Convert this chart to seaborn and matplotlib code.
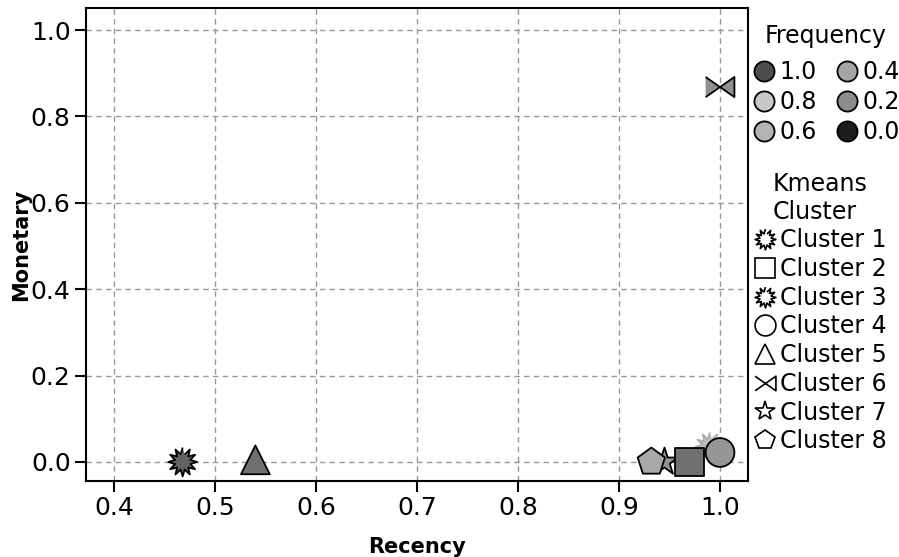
import numpy as np
import pandas as pd
import seaborn as sns
import matplotlib.pyplot as plt
from matplotlib.lines import Line2D

# datos
clusters = ["Cluster 1", "Cluster 5", "Cluster 7", "Cluster 8", "Cluster 3", "Cluster 2", "Cluster 4", "Cluster 6"]
recency = [0.468, 0.54, 0.945, 0.932, 0.99, 0.970, 1.0, 1.0]
monetary = [0.0, 0.005, 0.0, 0.0, 0.035, 0.0, 0.022, 0.868]
frequency = [0.2, 0.3, 0.6, 0.75, 0.9, 0.3, 0.6, 0.55]

freq_labels = ["1.0", "0.8", "0.6", "0.4", "0.2", "0.0"]
freq_colors = ["#4d4d4d", "#c8c8c8", "#b4b4b4", "#a4a4a4", "#8c8c8c", "#1c1c1c"]
legend_clusters = ["Cluster %d" % i for i in range(1, 9)]

df = pd.DataFrame({"Recency": recency, "Monetary": monetary,
                   "Frequency": frequency, "Cluster": clusters})

# marcadores
ang = np.linspace(0, 2 * np.pi, 25)[:-1] + np.pi / 2
rad = np.where(np.arange(24) % 2 == 0, 1.0, 0.55)
burst = list(zip(rad * np.cos(ang), rad * np.sin(ang)))
bowtie = [(-1, -0.7), (0, 0), (1, -0.7), (1, 0.7), (0, 0), (-1, 0.7)]
marker_map = {"Cluster 1": burst, "Cluster 2": "s", "Cluster 3": burst, "Cluster 4": "o",
              "Cluster 5": "^", "Cluster 6": bowtie, "Cluster 7": "*", "Cluster 8": "p"}

sns.set_style("white")
plt.rcParams["font.family"] = ["DejaVu Sans"]
plt.rcParams["text.color"] = "black"

fig = plt.figure(figsize=(8.99, 5.57), dpi=100)
ax = fig.add_axes([86 / 899, 1 - 481 / 557, 662 / 899, 473 / 557])

cmap = sns.blend_palette(["#4a4a4a", "#c8c8c8"], as_cmap=True)
sns.scatterplot(data=df, x="Recency", y="Monetary", hue="Frequency", palette=cmap,
                hue_norm=(0, 1), style="Cluster", markers=marker_map, s=430,
                edgecolor="black", linewidth=1.3, legend=False, ax=ax, zorder=3)
pts = ax.collections[0]
edges = ["#b0b0b0" if c == "Cluster 3" else "black" for c in clusters]
pts.set_edgecolors(edges)

ax.set_xlim(0.3723, 1.0277)
ax.set_ylim(-0.044, 1.051)
ax.set_xticks([0.4, 0.5, 0.6, 0.7, 0.8, 0.9, 1.0])
ax.set_yticks([0.0, 0.2, 0.4, 0.6, 0.8, 1.0])
ax.grid(True, linestyle=(0, (4, 3)), color="#999999", linewidth=1)
ax.set_axisbelow(True)
for sp in ax.spines.values():
    sp.set_color("black")
    sp.set_linewidth(1.5)
ax.tick_params(direction="out", length=8, width=1.5, labelsize=18, colors="black",
               bottom=True, left=True, pad=3)
ax.set_xlabel("Recency", fontsize=15, fontweight="bold", color="black")
ax.set_ylabel("Monetary", fontsize=15, fontweight="bold", color="black")
ax.xaxis.set_label_coords(0.5, -0.118)
ax.yaxis.set_label_coords(-0.083, 0.5)

# leyendas
h1 = [Line2D([], [], marker="o", linestyle="", markersize=14.5, markerfacecolor=c,
             markeredgecolor="black", markeredgewidth=1.3) for c in freq_colors]
leg1 = fig.legend(h1, freq_labels, title="Frequency", ncol=2, loc="upper center",
                  bbox_to_anchor=(826 / 899, 1 - 12 / 557), frameon=False, fontsize=17,
                  title_fontsize=17, handletextpad=0.15, columnspacing=0.75,
                  labelspacing=0.25, handlelength=1.0, borderpad=0)
leg1._legend_box.sep = 9

h2 = [Line2D([], [], marker=marker_map[c], linestyle="", markersize=15,
             markerfacecolor="white", markeredgecolor="black", markeredgewidth=1.2)
      for c in legend_clusters]
leg2 = fig.legend(h2, legend_clusters, title="Kmeans\nCluster", loc="upper center",
                  bbox_to_anchor=(820 / 899, 1 - 160 / 557), frameon=False, fontsize=17,
                  title_fontsize=17, handletextpad=0.1, labelspacing=0.2,
                  handlelength=1.0, borderpad=0)
leg2._legend_box.align = "center"

fig.savefig("out.png", dpi=100)
